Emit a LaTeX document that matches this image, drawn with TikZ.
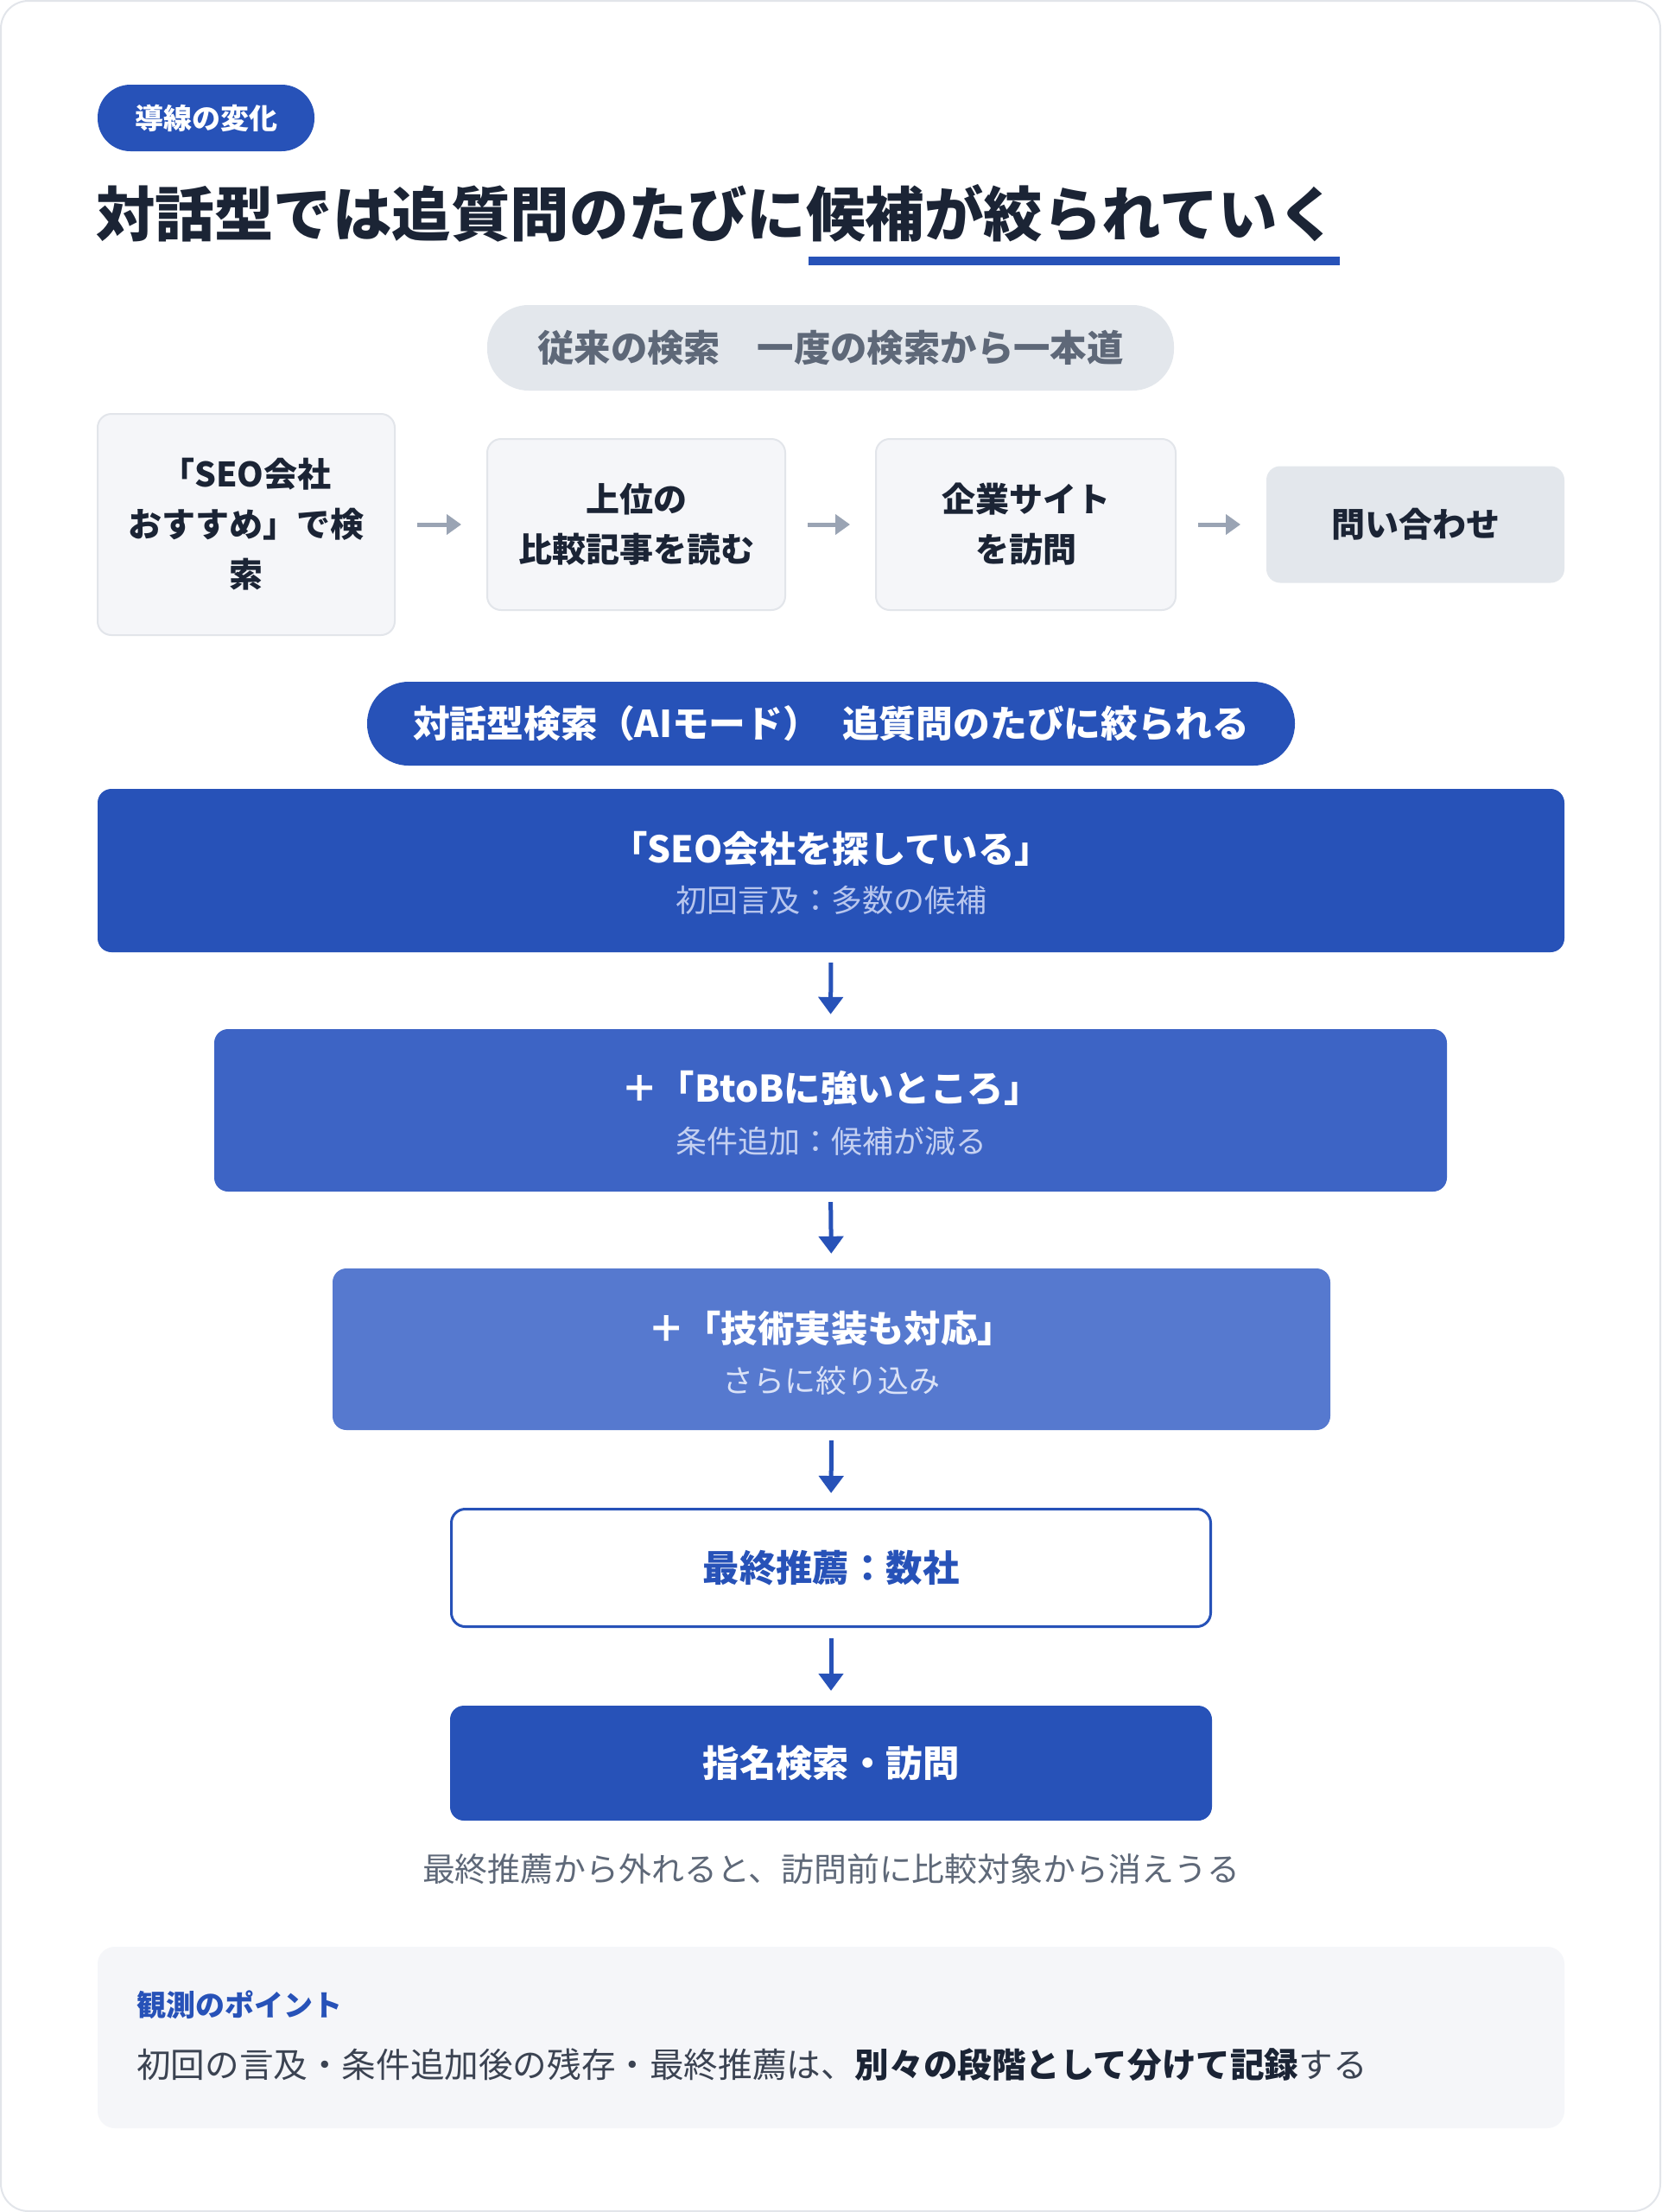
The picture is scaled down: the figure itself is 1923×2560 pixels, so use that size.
\documentclass[tikz,border=0pt]{standalone}
\usepackage{fontspec}
\setmainfont{Noto Sans CJK JP}
\usetikzlibrary{arrows.meta}
\definecolor{brand}{HTML}{2752B8}
\definecolor{brandB}{HTML}{3D64C5}
\definecolor{brandC}{HTML}{5679CF}
\definecolor{ink}{HTML}{1B2435}
\definecolor{muted}{HTML}{5E6878}
\definecolor{pillgray}{HTML}{E3E7EC}
\definecolor{cardgray}{HTML}{F5F6F9}
\definecolor{linegray}{HTML}{E2E5EA}
\definecolor{arrowgray}{HTML}{9AA4B4}
\definecolor{bodytext}{HTML}{3B4352}
\definecolor{subA}{HTML}{B8C6EE}
\definecolor{subB}{HTML}{C4D0F1}
\definecolor{subC}{HTML}{DAE2F7}
\begin{document}
\begin{tikzpicture}[x=1pt,y=-1pt,
  flowbox/.style={draw=linegray, line width=2pt, fill=cardgray, rounded corners=16pt,
    font=\bfseries\fontsize{39}{58}\selectfont, text=ink, align=center, inner sep=0pt},
  garrow/.style={-{Triangle[width=23pt,length=17pt]}, line width=5pt, draw=arrowgray,
    shorten <=25pt, shorten >=29pt},
  barrow/.style={-{Triangle[width=28pt,length=20pt]}, line width=5pt, draw=brand,
    shorten <=12pt, shorten >=17pt},
  stage/.style={rounded corners=16pt, inner sep=0pt},
  stitle/.style={font=\bfseries\fontsize{42.4}{50}\selectfont, text=white, inner sep=0pt},
  ssub/.style={font=\fontsize{36}{44}\selectfont, inner sep=0pt},
  pill/.style={rounded corners=48pt, inner sep=0pt, font=\bfseries\fontsize{42.4}{50}\selectfont}
]
\useasboundingbox (0,0) rectangle (1923,2560);
\draw[draw=linegray, line width=2pt, fill=white, rounded corners=32pt] (1,1) rectangle (1922,2559);

% header
\node[fill=brand, rounded corners=38pt, minimum width=251pt, minimum height=77pt, inner sep=0pt,
  text=white, font=\bfseries\fontsize{33}{40}\selectfont] (tag) at (238.5,136.5) {導線の変化};
\node[anchor=west, inner sep=0pt, text=ink, font=\bfseries\fontsize{68.5}{80}\selectfont]
  (title) at (111,247) {対話型では追質問のたびに候補が絞られていく};
\fill[brand] (936,297) rectangle (1551,307);

% traditional search
\node[pill, fill=pillgray, text=muted, minimum width=795pt, minimum height=99pt]
  (oldhead) at (961.5,402.5) {従来の検索　一度の検索から一本道};
\node[flowbox, minimum width=344pt, minimum height=256pt] (f1) at (285,607) {「SEO会社\\おすすめ」で検\\索};
\node[flowbox, minimum width=345pt, minimum height=198pt] (f2) at (736.5,607) {上位の\\比較記事を読む};
\node[flowbox, minimum width=347pt, minimum height=198pt] (f3) at (1187.5,607) {企業サイト\\を訪問};
\node[flowbox, fill=pillgray, draw=none, minimum width=345pt, minimum height=135pt] (f4) at (1638.5,607) {問い合わせ};
\draw[garrow] (f1.east) -- (f2.west);
\draw[garrow] (f2.east) -- (f3.west);
\draw[garrow] (f3.east) -- (f4.west);

% AI mode
\node[pill, fill=brand, text=white, minimum width=1074pt, minimum height=97pt,
  font=\bfseries\fontsize{42.8}{50}\selectfont]
  (aihead) at (962,837.5) {対話型検索（AIモード）\hspace{0.6em}追質問のたびに絞られる};

\node[stage, fill=brand, minimum width=1698pt, minimum height=189pt] (sA) at (962,1007.5) {};
\node[stitle] (tA) at (962,982) {「SEO会社を探している」};
\node[ssub, text=subA] (uA) at (962,1042) {初回言及：多数の候補};

\node[stage, fill=brandB, minimum width=1427pt, minimum height=188pt] (sB) at (961.5,1285) {};
\node[stitle] (tB) at (962,1259) {＋「BtoBに強いところ」};
\node[ssub, text=subB] (uB) at (962,1321) {条件追加：候補が減る};

\node[stage, fill=brandC, minimum width=1155pt, minimum height=187pt] (sC) at (962.5,1561.5) {};
\node[stitle] (tC) at (962,1537) {＋「技術実装も対応」};
\node[ssub, text=subC] (uC) at (962,1598) {さらに絞り込み};

\node[stage, fill=white, draw=brand, line width=3pt, minimum width=879pt, minimum height=136pt,
  text=brand, font=\bfseries\fontsize{42.4}{50}\selectfont] (sD) at (962,1814.5) {最終推薦：数社};
\node[stage, fill=brand, minimum width=882pt, minimum height=133pt,
  text=white, font=\bfseries\fontsize{42.4}{50}\selectfont] (sE) at (962,2040.5) {指名検索・訪問};

\draw[barrow] (sA.south) -- (sB.north);
\draw[barrow] (sB.south) -- (sC.north);
\draw[barrow] (sC.south) -- (sD.north);
\draw[barrow] (sD.south) -- (sE.north);

\node[inner sep=0pt, text=muted, font=\fontsize{37.9}{45}\selectfont] (cap) at (962,2163)
  {最終推薦から外れると、訪問前に比較対象から消えうる};

% observation point
\node[fill=cardgray, rounded corners=20pt, minimum width=1698pt, minimum height=210pt, inner sep=0pt]
  (pt) at (962,2358) {};
\node[anchor=west, inner sep=0pt, text=brand, font=\bfseries\fontsize{34}{40}\selectfont]
  (pth) at (158,2320) {観測のポイント};
\node[anchor=west, inner sep=0pt, text=ink, font=\fontsize{39.6}{46}\selectfont]
  (ptb) at (158,2390) {{\color{bodytext}初回の言及・条件追加後の残存・最終推薦は、}{\bfseries 別々の段階として分けて記録}{\color{bodytext}する}};
\end{tikzpicture}
\end{document}
